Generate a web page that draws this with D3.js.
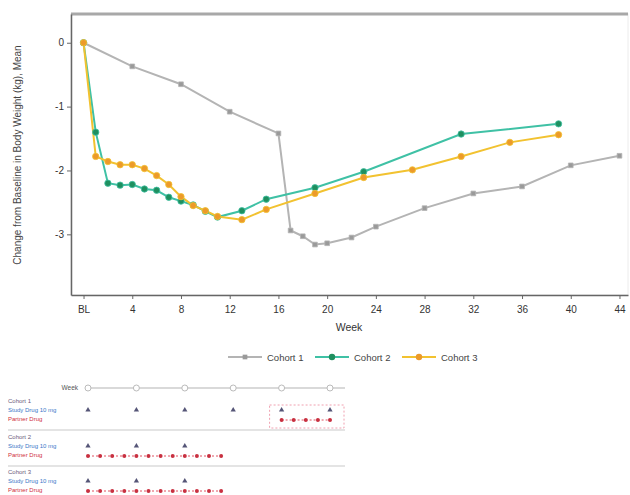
<!DOCTYPE html>
<html><head><meta charset="utf-8">
<script src="https://cdn.jsdelivr.net/npm/d3@7"></script>
<style>body{margin:0;background:#fff}svg{display:block}text{font-family:"Liberation Sans",Arial,sans-serif}</style>
</head><body><svg id="c" width="630" height="495"></svg>
<script>
// ---- data ----
const xTicks = [0,4,8,12,16,20,24,28,32,36,40,44];
const xTickLabels = ["BL","4","8","12","16","20","24","28","32","36","40","44"];
const yTicks = [0,-1,-2,-3];
const yTickLabels = ["0","-1","-2","-3"];
const seriesNames = ["Cohort 1","Cohort 2","Cohort 3"];
const c1Weeks = [0,4,8,12,16,17,18,19,20,22,24,28,32,36,40,44];
const c1Vals  = [0,-0.37,-0.65,-1.08,-1.42,-2.94,-3.03,-3.16,-3.14,-3.05,-2.88,-2.59,-2.36,-2.25,-1.92,-1.77];
const c2Weeks = [0,1,2,3,4,5,6,7,8,9,10,11,13,15,19,23,31,39];
const c2Vals  = [0,-1.40,-2.20,-2.23,-2.22,-2.29,-2.31,-2.42,-2.48,-2.54,-2.64,-2.73,-2.63,-2.45,-2.27,-2.02,-1.43,-1.27];
const c3Weeks = [0,1,2,3,4,5,6,7,8,9,10,11,13,15,19,23,27,31,35,39];
const c3Vals  = [0,-1.78,-1.86,-1.91,-1.91,-1.97,-2.08,-2.22,-2.41,-2.55,-2.63,-2.72,-2.77,-2.61,-2.36,-2.11,-1.99,-1.78,-1.56,-1.44];
// dosing schedule table
const schedWeeks = [0,4,8,12,16,20];
const schedCohorts = ["Cohort 1","Cohort 2","Cohort 3"];
const drugALabel = "Study Drug 10 mg";
const drugBLabel = "Partner Drug";
const drugAWeeks = [[0,4,8,12,16,20],[0,4,8],[0,4,8]];
const drugBWeeks = [[16,17,18,19,20],[0,1,2,3,4,5,6,7,8,9,10,11],[0,1,2,3,4,5,6,7,8,9,10,11]];

const svg = d3.select("#c");
const L=71,R=628,T=14,B=295;
const x = d3.scaleLinear().domain([-1.03,44.7]).range([L,R]);
const y = d3.scaleLinear().domain([-3.95,0.45]).range([B,T]);

// frame
svg.append("rect").attr("x",L).attr("y",T).attr("width",R-L).attr("height",B-T).attr("fill","none").attr("stroke","#ececec");
svg.append("line").attr("x1",L).attr("x2",R).attr("y1",T).attr("y2",T).attr("stroke","#a8a8a8").attr("stroke-width",3);

// axes
const xa = svg.append("g").attr("transform",`translate(0,${B})`)
  .call(d3.axisBottom(x).tickValues(xTicks).tickFormat((d,i)=>xTickLabels[i]).tickSize(4).tickSizeOuter(0));
const ya = svg.append("g").attr("transform",`translate(${L},0)`)
  .call(d3.axisLeft(y).tickValues(yTicks).tickFormat((d,i)=>yTickLabels[i]).tickSize(4).tickSizeOuter(0));
[xa,ya].forEach(g=>{g.select(".domain").attr("stroke","#666").attr("stroke-width",1.5);
  g.selectAll(".tick line").attr("stroke","#666");
  g.selectAll("text").attr("fill","#333").attr("font-size",10);});
xa.selectAll("text").attr("dy","1.1em");

svg.append("text").attr("x",349).attr("y",331).attr("text-anchor","middle").attr("font-size",10.5).attr("fill","#333").text("Week");
svg.append("text").attr("transform","translate(21,155) rotate(-90)").attr("text-anchor","middle").attr("font-size",10).attr("fill","#444")
  .text("Change from Baseline in Body Weight (kg), Mean");

const series = [
  {w:c1Weeks,v:c1Vals,line:"#b4b4b4",mk:"#9a9a9a",shape:d3.symbolSquare,size:22},
  {w:c2Weeks,v:c2Vals,line:"#3fc1a5",mk:"#1f8f5f",shape:d3.symbolCircle,size:32},
  {w:c3Weeks,v:c3Vals,line:"#f2c230",mk:"#ec9a2a",shape:d3.symbolCircle,size:32}
];
const lg = d3.line().x(d=>x(d[0])).y(d=>y(d[1]));
series.forEach(s=>{
  const pts = s.w.map((w,i)=>[w,s.v[i]]);
  svg.append("path").datum(pts).attr("d",lg).attr("fill","none").attr("stroke",s.line).attr("stroke-width",2);
});
series.forEach(s=>{
  const pts = s.w.map((w,i)=>[w,s.v[i]]);
  svg.append("g").selectAll("path").data(pts).join("path")
    .attr("transform",d=>`translate(${x(d[0])},${y(d[1])})`)
    .attr("d",d3.symbol().type(s.shape).size(s.size)).attr("fill",s.mk).attr("stroke",s.line).attr("stroke-width",0.8);
});

// legend
const legX=[228,315,402];
seriesNames.forEach((n,i)=>{
  const g=svg.append("g").attr("transform",`translate(${legX[i]},357)`);
  g.append("line").attr("x1",0).attr("x2",34).attr("stroke",series[i].line).attr("stroke-width",2);
  g.append("path").attr("transform","translate(17,0)").attr("d",d3.symbol().type(series[i].shape).size(series[i].size)).attr("fill",series[i].mk);
  g.append("text").attr("x",39).attr("y",3.5).attr("font-size",9.5).attr("fill","#444").text(n);
});

// dosing schedule
const sx = d3.scaleLinear().domain([0,20]).range([88,330]);
svg.append("text").attr("x",78).attr("y",390).attr("text-anchor","end").attr("font-size",6.5).attr("fill","#555").text("Week");
svg.append("line").attr("x1",sx(0)).attr("x2",345).attr("y1",388).attr("y2",388).attr("stroke","#ccc").attr("stroke-width",1.5);
svg.append("g").selectAll("circle").data(schedWeeks).join("circle").attr("cx",d=>sx(d)).attr("cy",388).attr("r",3)
  .attr("fill","#fff").attr("stroke","#bbb");
const rowY=[401,437,472];
schedCohorts.forEach((c,i)=>{
  const y0=rowY[i];
  svg.append("text").attr("x",8).attr("y",y0+2).attr("font-size",6).attr("fill","#6a5a7a").text(c);
  svg.append("text").attr("x",8).attr("y",y0+11).attr("font-size",6).attr("fill","#3a78c8").text(drugALabel);
  svg.append("text").attr("x",8).attr("y",y0+20).attr("font-size",6).attr("fill","#d03040").text(drugBLabel);
  svg.append("g").selectAll("path").data(drugAWeeks[i]).join("path")
    .attr("transform",d=>`translate(${sx(d)},${y0+9})`).attr("d",d3.symbol().type(d3.symbolTriangle).size(12))
    .attr("fill","#557");
  const bw=drugBWeeks[i];
  svg.append("line").attr("x1",sx(bw[0])).attr("x2",sx(bw[bw.length-1])).attr("y1",y0+19).attr("y2",y0+19)
    .attr("stroke","#e05060").attr("stroke-dasharray","2,2");
  svg.append("g").selectAll("circle").data(bw).join("circle").attr("cx",d=>sx(d)).attr("cy",y0+19).attr("r",2)
    .attr("fill","#c83040");
  if(i<2) svg.append("line").attr("x1",8).attr("x2",345).attr("y1",y0+29).attr("y2",y0+29).attr("stroke","#e4e4e4").attr("stroke-width",2);
});
svg.append("rect").attr("x",sx(16)-12).attr("y",405).attr("width",sx(20)-sx(16)+26).attr("height",23)
  .attr("fill","none").attr("stroke","#f0a0b0").attr("stroke-dasharray","2,2");
</script></body></html>
